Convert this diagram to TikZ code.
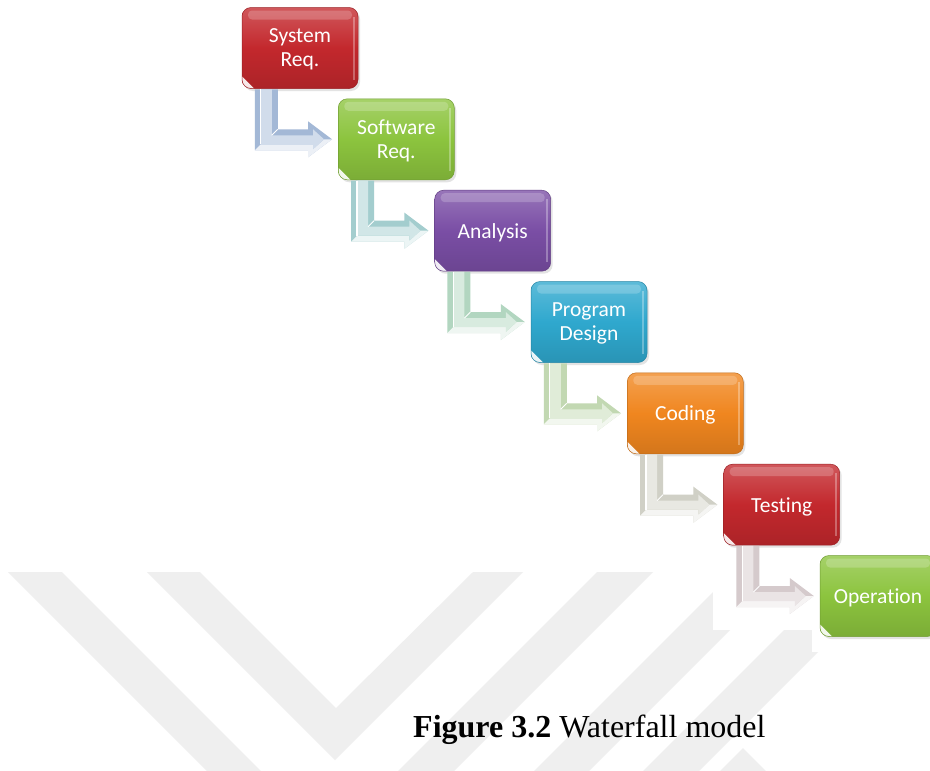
\documentclass[tikz,border=0pt]{standalone}
\usepackage{fontspec}
\usetikzlibrary{calc,shadows}
\newfontfamily\boxfont[Ligatures=NoCommon]{Carlito}
\newfontfamily\capfont{Liberation Serif}

\definecolor{stepred}{HTML}{C3282D}
\definecolor{stepgreen}{HTML}{8CC43E}
\definecolor{steppurple}{HTML}{7A4EA5}
\definecolor{stepcyan}{HTML}{2FA8CE}
\definecolor{steporange}{HTML}{F0861F}
\definecolor{arrowA}{HTML}{A3B8D6}
\definecolor{arrowB}{HTML}{A3CDCE}
\definecolor{arrowC}{HTML}{B2D6C0}
\definecolor{arrowD}{HTML}{C2D8B2}
\definecolor{arrowE}{HTML}{D0D0C6}
\definecolor{arrowF}{HTML}{D5CACC}
\definecolor{markgray}{HTML}{EFEFEF}

\tikzset{
  stepbox/.style={
    rounded corners=9pt, minimum width=116pt, minimum height=81pt, inner sep=0pt,
    align=center, text=white, text depth=0pt,
    font={\boxfont\fontsize{21.5pt}{24pt}\selectfont},
    draw=#1!80!black, line width=0.5pt,
    top color=#1!78!white, bottom color=#1!88!black, middle color=#1,
    drop shadow={opacity=0.22, shadow xshift=2pt, shadow yshift=-2.5pt},
    path picture={
      \fill[white, opacity=0.2, rounded corners=4pt]
        ([shift={(6pt,-3pt)}]path picture bounding box.north west) rectangle
        ([shift={(-6pt,-12pt)}]path picture bounding box.north east);
      \fill[white, opacity=0.3, rounded corners=0pt]
        ([shift={(-5pt,-9pt)}]path picture bounding box.north east) rectangle
        ([shift={(-3pt,9pt)}]path picture bounding box.south east);
      \fill[white, opacity=0.9, rounded corners=0pt]
        (path picture bounding box.south west) -- ++(0pt,12pt) -- ++(12pt,-12pt) -- cycle;
    }
  },
  markband/.style={fill=markgray}
}

% bent, bevelled arrow from the foot of one step to the side of the next
\newcommand\flowarrow[3]{%
  \fill[#3] let \p1=(#1.south west), \p2=(#2.west) in
    (\x1+13pt,\y1-0.5pt) -- (\x1+36pt,\y1-0.5pt) -- (\x1+36pt,\y2+10pt)
    -- (\x2-30pt,\y2+10pt) -- (\x2-30pt,\y2+18pt) -- (\x2-6pt,\y2)
    -- (\x2-30pt,\y2-18pt) -- (\x2-30pt,\y2-11pt) -- (\x1+13pt,\y2-11pt) -- cycle;
  \fill[white, opacity=0.8] let \p1=(#1.south west), \p2=(#2.west) in
    (\x1+13pt,\y2-11pt) -- (\x2-30pt,\y2-11pt) -- (\x2-30pt,\y2-18pt)
    -- (\x2-6pt,\y2) -- (\x2-14pt,\y2) -- (\x2-25pt,\y2-10pt)
    -- (\x2-25pt,\y2-5pt) -- (\x1+19pt,\y2-5pt) -- cycle;
  \fill[#3!50!white] let \p1=(#1.south west), \p2=(#2.west) in
    (\x1+19pt,\y1-0.5pt) -- (\x1+30pt,\y1-0.5pt) -- (\x1+30pt,\y2+4pt)
    -- (\x2-25pt,\y2+4pt) -- (\x2-25pt,\y2+10pt) -- (\x2-14pt,\y2)
    -- (\x2-25pt,\y2-10pt) -- (\x2-25pt,\y2-5pt) -- (\x1+19pt,\y2-5pt) -- cycle;
  \draw[white, line width=1.2pt] let \p1=(#1.south west), \p2=(#2.west) in
    (\x1+19pt,\y1-0.5pt) -- (\x1+19pt,\y2-5pt);
  \draw[white, line width=0.8pt] let \p1=(#1.south west), \p2=(#2.west) in
    (\x1+30pt,\y2+4pt) -- (\x1+36pt,\y2+10pt);
}

\begin{document}
\begin{tikzpicture}[x=1pt, y=-1pt]
  \useasboundingbox (0,0) rectangle (930,771);
  \clip (0,0) rectangle (930,771);
  \fill[white] (0,0) rectangle (930,771);

  % faint chevron watermark behind the caption
  \fill[markband] (8,572) -- (62,572) -- (282,792) -- (228,792) -- cycle;
  \fill[markband] (147,572) -- (200,572) -- (336,708) -- (473,572) -- (523,572) -- (335,760) -- cycle;
  \fill[markband] (597,572) -- (653,572) -- (433,792) -- (377,792) -- cycle;
  \fill[markband] (733,572) -- (788,572) -- (568,792) -- (513,792) -- cycle;
  \fill[markband] (842,572) -- (898,572) -- (678,792) -- (622,792) -- cycle;
  \fill[markband] (743,748) -- (790,795) -- (696,795) -- cycle;
  % blank ground of the chart
  \fill[white] (713,560) rectangle (930,630);
  \fill[white] (812,560) rectangle (930,652);

  % steps
  \node[stepbox=stepred]    (sysreq) at (300,48)      {System\\Req.};
  \node[stepbox=stepgreen]  (swreq)  at (396.3,139.3) {Software\\Req.};
  \node[stepbox=steppurple] (anal)   at (492.7,230.7) {Analysis};
  \node[stepbox=stepcyan]   (pdes)   at (589,322)     {Program\\Design};
  \node[stepbox=steporange] (code)   at (685.3,413.3) {Coding};
  \node[stepbox=stepred]    (test)   at (781.7,504.7) {Testing};
  \node[stepbox=stepgreen]  (oper)   at (878,596)     {Operation};

  % connectors
  \flowarrow{sysreq}{swreq}{arrowA}
  \flowarrow{swreq}{anal}{arrowB}
  \flowarrow{anal}{pdes}{arrowC}
  \flowarrow{pdes}{code}{arrowD}
  \flowarrow{code}{test}{arrowE}
  \flowarrow{test}{oper}{arrowF}

  % caption
  \node[anchor=base west, inner sep=0pt, font={\capfont\fontsize{32pt}{36pt}\selectfont}]
    (caption) at (413,737) {\textbf{Figure 3.2} Waterfall model};
\end{tikzpicture}
\end{document}
